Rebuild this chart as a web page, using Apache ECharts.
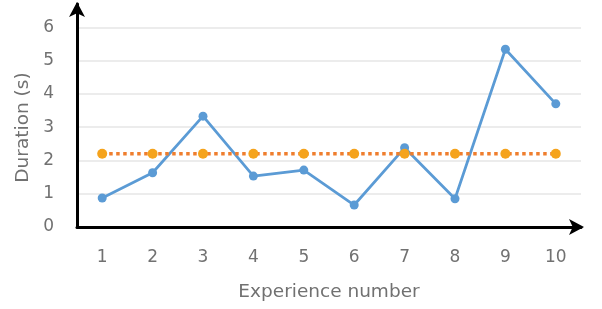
<!DOCTYPE html>
<html>
<head>
<meta charset="utf-8">
<script src="https://cdn.jsdelivr.net/npm/echarts@6/dist/echarts.min.js"></script>
<style>
  html, body { margin: 0; padding: 0; background: #fff; }
  #chart { width: 602px; height: 309px; }
</style>
</head>
<body>
<div id="chart"></div>
<script>
// experience numbers on the x axis
const experiences = ['1', '2', '3', '4', '5', '6', '7', '8', '9', '10'];
// measured duration per experience (s)
const durations = [0.87, 1.63, 3.33, 1.53, 1.71, 0.66, 2.38, 0.85, 5.34, 3.7];
// mean duration, flat dotted line
const meanDuration = [2.2, 2.2, 2.2, 2.2, 2.2, 2.2, 2.2, 2.2, 2.2, 2.2];

const textGray = '#717171';
const fontFam = '"DejaVu Sans", sans-serif';

const chart = echarts.init(document.getElementById('chart'));

const option = {
    animation: false,
    grid: { left: 77, right: 21, top: 4, bottom: 82 },
    xAxis: {
        type: 'category',
        data: experiences,
        boundaryGap: true,
        name: 'Experience number',
        nameLocation: 'middle',
        nameGap: 56,
        nameTextStyle: { color: textGray, fontSize: 18.5, fontFamily: fontFam },
        axisLine: {
            lineStyle: { color: '#000', width: 3 },
            symbol: ['none', 'arrow'],
            symbolSize: [12, 15],
            symbolOffset: [0, 3]
        },
        axisTick: { show: false },
        axisLabel: { color: textGray, fontSize: 17, fontFamily: fontFam, margin: 22 }
    },
    yAxis: {
        type: 'value',
        min: 0,
        max: 6.7,
        interval: 1,
        name: 'Duration (s)',
        nameLocation: 'middle',
        nameGap: 44,
        nameTextStyle: { color: textGray, fontSize: 18.5, fontFamily: fontFam, padding: [0, 24, 0, 0] },
        axisLine: {
            show: true,
            lineStyle: { color: '#000', width: 3 },
            symbol: ['none', 'arrow'],
            symbolSize: [12, 15],
            symbolOffset: [0, 2]
        },
        axisTick: { show: false },
        axisLabel: { color: textGray, fontSize: 17, fontFamily: fontFam, margin: 23, showMaxLabel: false },
        splitLine: { lineStyle: { color: '#e6e6e6', width: 1.5 }, showMaxLine: false }
    },
    series: [
        {
            type: 'line',
            data: durations,
            symbol: 'circle',
            symbolSize: 9,
            lineStyle: { color: '#5b9bd5', width: 2.75 },
            itemStyle: { color: '#5b9bd5' }
        },
        {
            type: 'line',
            data: meanDuration,
            symbol: 'circle',
            symbolSize: 10,
            lineStyle: { color: '#ef7e2e', width: 3.5, type: [3.5, 3.5] },
            itemStyle: { color: '#f5a31c' }
        }
    ]
};

chart.setOption(option);
</script>
</body>
</html>
